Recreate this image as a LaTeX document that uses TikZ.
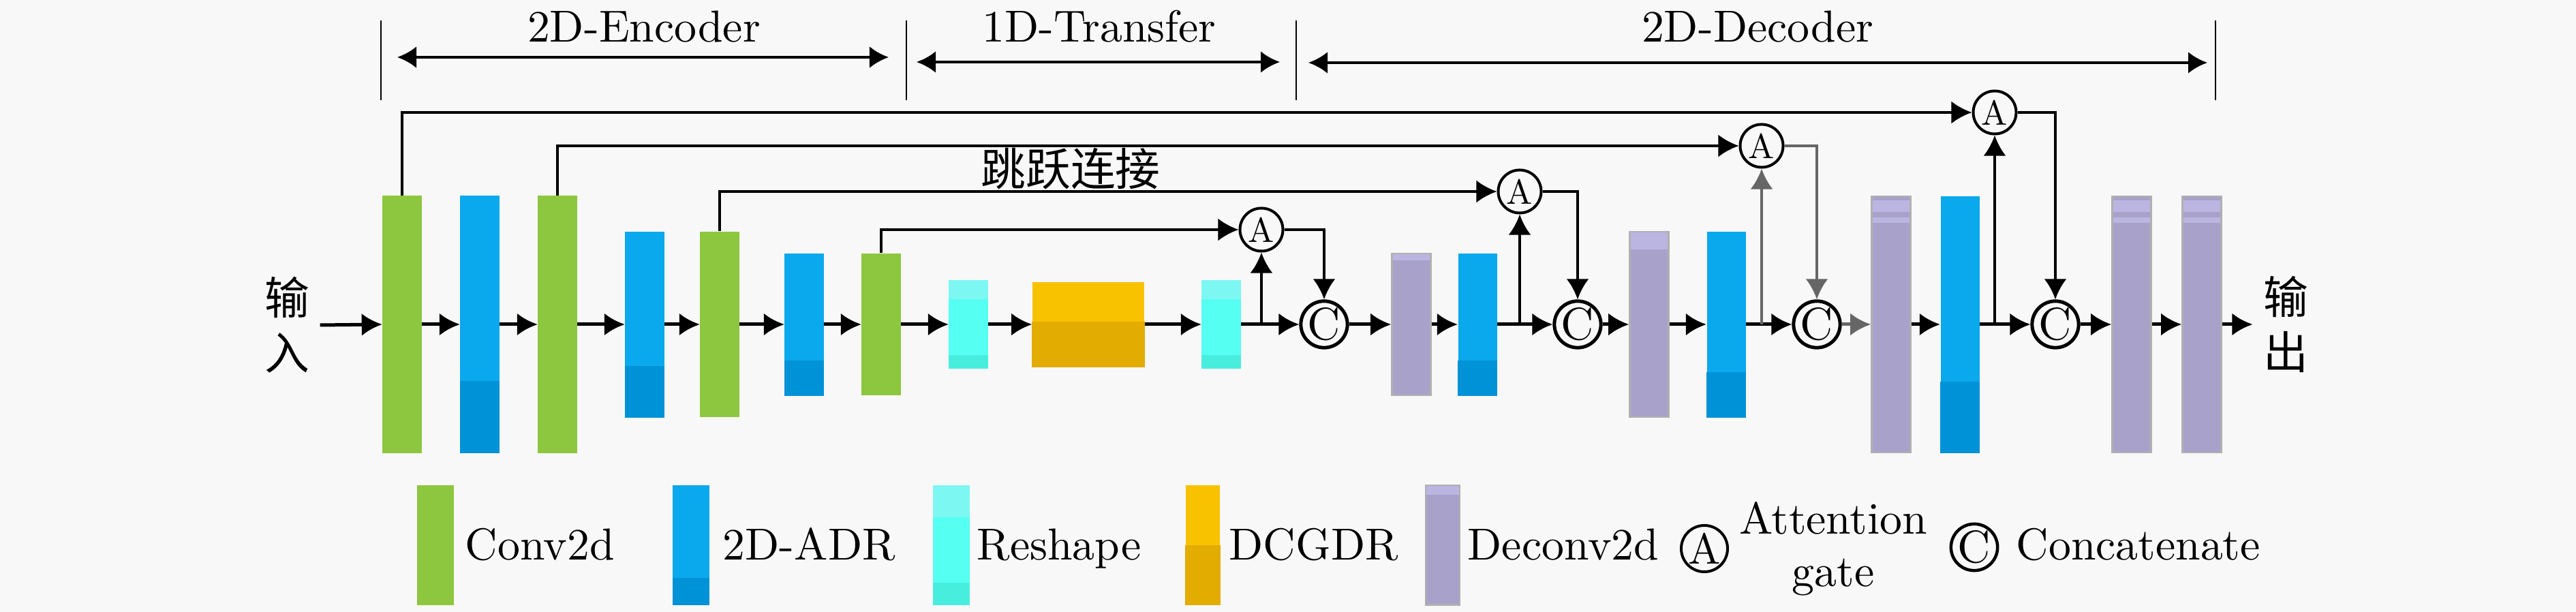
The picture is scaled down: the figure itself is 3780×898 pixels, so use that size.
\documentclass[tikz,border=0pt]{standalone}
\usepackage{fontspec}
\setmainfont{lmroman10-regular}[Extension=.otf, BoldFont=lmroman10-bold, ItalicFont=lmroman10-italic]
\newfontfamily\cjk{Noto Sans CJK SC}
\usetikzlibrary{arrows.meta}

\definecolor{cbg}{HTML}{F8F8F8}
\definecolor{cconv}{HTML}{8DC63F}
\definecolor{cadr}{HTML}{0AA8EC}
\definecolor{cadrdark}{HTML}{0092D6}
\definecolor{cresh}{HTML}{55FFF2}
\definecolor{creshtop}{HTML}{7DF7F2}
\definecolor{creshbot}{HTML}{48EEDD}
\definecolor{cdcg}{HTML}{F9C200}
\definecolor{cdcgdark}{HTML}{E3AC00}
\definecolor{cdec}{HTML}{A8A2CB}
\definecolor{cdeclight}{HTML}{BBB5E1}
\definecolor{cdecedge}{HTML}{B0B0B0}
\definecolor{cgrey}{HTML}{666666}

\tikzset{
  blk/.style={rectangle, inner sep=0pt, minimum width=0.57cm},
  conv/.style={blk, fill=cconv},
  adr/.style={blk, fill=cadr},
  resh/.style={blk, fill=cresh},
  dcg/.style={blk, fill=cdcg, minimum width=1.64cm},
  deconv/.style={blk, fill=cdec, draw=cdecedge, line width=0.025cm},
  attn/.style={circle, draw, line width=0.04cm, inner sep=0pt, minimum size=0.63cm, font=\fontsize{14.5}{14}\selectfont},
  concat/.style={circle, draw, line width=0.05cm, inner sep=0pt, minimum size=0.63cm, font=\fontsize{19}{19}\selectfont},
  fwd/.style={line width=0.05cm, -{Latex[length=0.3cm, width=0.33cm]}},
  skipline/.style={line width=0.04cm, -{Latex[length=0.3cm, width=0.33cm]}},
  brkt/.style={line width=0.045cm, {Latex[length=0.28cm, width=0.32cm]}-{Latex[length=0.28cm, width=0.32cm]}},
  tick/.style={line width=0.025cm},
  lbl/.style={font=\fontsize{18.7}{22}\selectfont},
  cjklbl/.style={font=\cjk\fontsize{18.7}{23}\selectfont, align=center, inner sep=0.15cm},
}

\begin{document}
\begin{tikzpicture}[x=0.01cm, y=-0.01cm]

\fill[cbg] (0,0) rectangle (3780,898);
\useasboundingbox (0,0) rectangle (3780,898);

% stage brackets
\draw[tick] (559,30) -- (559,147);
\draw[tick] (1330,30) -- (1330,147);
\draw[tick] (1902,30) -- (1902,147);
\draw[tick] (3251,30) -- (3251,147);
\coordinate (encL) at (583,84);
\coordinate (encR) at (1304,84);
\coordinate (trL) at (1345,91);
\coordinate (trR) at (1878,91);
\coordinate (decL) at (1920,92);
\coordinate (decR) at (3239,92);
\draw[brkt] (encL) -- (encR);
\draw[brkt] (trL) -- (trR);
\draw[brkt] (decL) -- (decR);
\node (encT) at (945,62) [lbl, anchor=base] {2D-Encoder};
\node (trT) at (1613,62) [lbl, anchor=base] {1D-Transfer};
\node (decT) at (2579,62) [lbl, anchor=base] {2D-Decoder};

% encoder
\node (in) at (421,477) [cjklbl] {输\\入};
\node (e1) at (590,476) [conv, minimum height=3.77cm] {};
\node (e2) at (704,476) [adr, minimum height=3.77cm] {};
\fill[cadrdark] (e2.south west) rectangle ([yshift=1.06cm]e2.south east);
\node (e3) at (818,476) [conv, minimum height=3.77cm] {};
\node (e4) at (946,476) [adr, minimum height=2.72cm] {};
\fill[cadrdark] (e4.south west) rectangle ([yshift=0.76cm]e4.south east);
\node (e5) at (1056,476) [conv, minimum height=2.72cm] {};
\node (e6) at (1180,476) [adr, minimum height=2.08cm] {};
\fill[cadrdark] (e6.south west) rectangle ([yshift=0.52cm]e6.south east);
\node (e7) at (1293,476) [conv, minimum height=2.08cm] {};

% transfer
\node (t1) at (1421,476) [resh, minimum height=1.28cm] {};
\fill[creshtop] (t1.north west) rectangle ([yshift=-0.28cm]t1.north east);
\fill[creshbot] (t1.south west) rectangle ([yshift=0.2cm]t1.south east);
\node (t2) at (1597,476) [dcg, minimum height=1.24cm] {};
\fill[cdcgdark] (t2.south west) rectangle ([yshift=0.67cm]t2.south east);
\node (t3) at (1792,476) [resh, minimum height=1.28cm] {};
\fill[creshtop] (t3.north west) rectangle ([yshift=-0.28cm]t3.north east);
\fill[creshbot] (t3.south west) rectangle ([yshift=0.2cm]t3.south east);

% decoder
\node (A1) at (1851,337) [attn] {A};
\node (C1) at (1943,476) [concat] {C};
\node (d1) at (2071,476) [deconv, minimum height=2.08cm] {};
\fill[cdeclight] ([xshift=0.025cm,yshift=-0.02cm]d1.north west) rectangle ([xshift=-0.025cm,yshift=-0.11cm]d1.north east);
\node (d2) at (2168,476) [adr, minimum height=2.08cm] {};
\fill[cadrdark] (d2.south west) rectangle ([yshift=0.52cm]d2.south east);
\node (A2) at (2230,281) [attn] {A};
\node (C2) at (2315,476) [concat] {C};
\node (d3) at (2420,476) [deconv, minimum height=2.72cm] {};
\fill[cdeclight] ([xshift=0.025cm,yshift=-0.02cm]d3.north west) rectangle ([xshift=-0.025cm,yshift=-0.27cm]d3.north east);
\node (d4) at (2533,476) [adr, minimum height=2.72cm] {};
\fill[cadrdark] (d4.south west) rectangle ([yshift=0.67cm]d4.south east);
\node (A3) at (2585,214) [attn] {A};
\node (C3) at (2666,476) [concat] {C};
\node (d5) at (2775,476) [deconv, minimum height=3.76cm] {};
\fill[cdeclight] ([xshift=0.025cm,yshift=-0.07cm]d5.north west) rectangle ([xshift=-0.025cm,yshift=-0.24cm]d5.north east);
\fill[cdeclight] ([xshift=0.025cm,yshift=-0.32cm]d5.north west) rectangle ([xshift=-0.025cm,yshift=-0.40cm]d5.north east);
\node (d6) at (2876,476) [adr, minimum height=3.76cm] {};
\fill[cadrdark] (d6.south west) rectangle ([yshift=1.05cm]d6.south east);
\node (A4) at (2927,165) [attn] {A};
\node (C4) at (3016,476) [concat] {C};
\node (d7) at (3128,476) [deconv, minimum height=3.76cm] {};
\fill[cdeclight] ([xshift=0.025cm,yshift=-0.07cm]d7.north west) rectangle ([xshift=-0.025cm,yshift=-0.24cm]d7.north east);
\fill[cdeclight] ([xshift=0.025cm,yshift=-0.32cm]d7.north west) rectangle ([xshift=-0.025cm,yshift=-0.40cm]d7.north east);
\node (d8) at (3231,476) [deconv, minimum height=3.76cm] {};
\fill[cdeclight] ([xshift=0.025cm,yshift=-0.07cm]d8.north west) rectangle ([xshift=-0.025cm,yshift=-0.24cm]d8.north east);
\fill[cdeclight] ([xshift=0.025cm,yshift=-0.32cm]d8.north west) rectangle ([xshift=-0.025cm,yshift=-0.40cm]d8.north east);
\node (out) at (3354,476) [cjklbl] {输\\出};

% main flow
\draw[fwd] (in.east) -- (e1.west);
\draw[fwd] (e1.east) -- (e2.west);
\draw[fwd] (e2.east) -- (e3.west);
\draw[fwd] (e3.east) -- (e4.west);
\draw[fwd] (e4.east) -- (e5.west);
\draw[fwd] (e5.east) -- (e6.west);
\draw[fwd] (e6.east) -- (e7.west);
\draw[fwd] (e7.east) -- (t1.west);
\draw[fwd] (t1.east) -- (t2.west);
\draw[fwd] (t2.east) -- (t3.west);
\draw[fwd] (t3.east) -- (C1.west);
\draw[fwd] (C1.east) -- (d1.west);
\draw[fwd] (d1.east) -- (d2.west);
\draw[fwd] (d2.east) -- (C2.west);
\draw[fwd] (C2.east) -- (d3.west);
\draw[fwd] (d3.east) -- (d4.west);
\draw[fwd] (d4.east) -- (C3.west);
\draw[fwd, cgrey] (C3.east) -- (d5.west);
\draw[fwd] (d5.east) -- (d6.west);
\draw[fwd] (d6.east) -- (C4.west);
\draw[fwd] (C4.east) -- (d7.west);
\draw[fwd] (d7.east) -- (d8.west);
\draw[fwd] (d8.east) -- (out.west);

% skip connections and gates
\draw[skipline] (e7.north) |- (A1.west);
\draw[skipline] (e5.north) |- (A2.west);
\draw[skipline] (e3.north) |- (A3.west);
\draw[skipline] (e1.north) |- (A4.west);
\node (skipT) at (1571,248) [cjklbl, inner sep=0pt] {跳跃连接};
\draw[skipline] (A1 |- t3.east) -- (A1.south);
\draw[skipline] (A2 |- d2.east) -- (A2.south);
\draw[skipline, cgrey] (A3 |- d4.east) -- (A3.south);
\draw[skipline] (A4 |- d6.east) -- (A4.south);
\draw[skipline] (A1.east) -| (C1.north);
\draw[skipline] (A2.east) -| (C2.north);
\draw[skipline, cgrey] (A3.east) -| (C3.north);
\draw[skipline] (A4.east) -| (C4.north);

% legend
\node (lg1) at (639,800) [conv, minimum width=0.53cm, minimum height=1.75cm] {};
\node (lg1t) at (682,822) [lbl, anchor=base west, inner sep=0pt] {Conv2d};
\node (lg2) at (1014,800) [adr, minimum width=0.53cm, minimum height=1.75cm] {};
\fill[cadrdark] (lg2.south west) rectangle ([yshift=0.4cm]lg2.south east);
\node (lg2t) at (1060,822) [lbl, anchor=base west, inner sep=0pt] {2D-ADR};
\node (lg3) at (1396,800) [resh, minimum width=0.53cm, minimum height=1.75cm] {};
\fill[creshtop] (lg3.north west) rectangle ([yshift=-0.47cm]lg3.north east);
\fill[creshbot] (lg3.south west) rectangle ([yshift=0.33cm]lg3.south east);
\node (lg3t) at (1433,822) [lbl, anchor=base west, inner sep=0pt] {Reshape};
\node (lg4) at (1765,800) [dcg, minimum width=0.5cm, minimum height=1.75cm] {};
\fill[cdcgdark] (lg4.south west) rectangle ([yshift=0.88cm]lg4.south east);
\node (lg4t) at (1803,822) [lbl, anchor=base west, inner sep=0pt] {DCGDR};
\node (lg5) at (2117,800) [deconv, minimum width=0.5cm, minimum height=1.75cm] {};
\fill[cdeclight] ([xshift=0.025cm,yshift=-0.02cm]lg5.north west) rectangle ([xshift=-0.025cm,yshift=-0.15cm]lg5.north east);
\node (lg5t) at (2153,822) [lbl, anchor=base west, inner sep=0pt] {Deconv2d};
\node (lgA) at (2501,805) [attn, minimum size=0.68cm, font=\fontsize{18}{18}\selectfont] {A};
\node (lgAt) at (2690,805) [lbl, align=center, inner sep=0pt] {Attention\\gate};
\node (lgC) at (2897,803) [concat, line width=0.045cm, minimum size=0.67cm, font=\fontsize{19}{19}\selectfont] {C};
\node (lgCt) at (2958,822) [lbl, anchor=base west, inner sep=0pt] {Concatenate};

\end{tikzpicture}
\end{document}
